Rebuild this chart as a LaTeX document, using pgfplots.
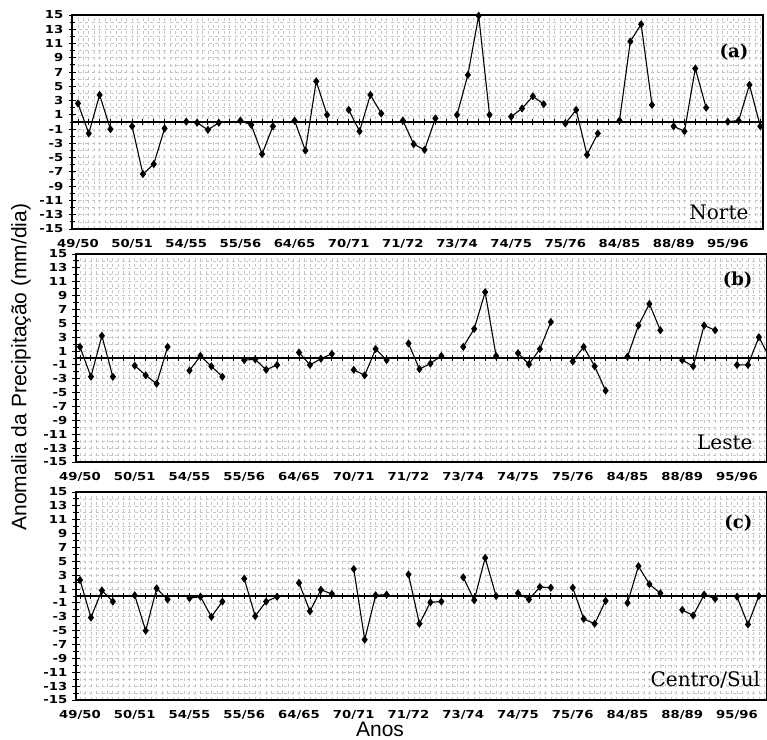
\documentclass[border=0pt]{standalone}
\usepackage{pgfplots}
\usepackage{pgfplotstable}
\pgfplotsset{compat=1.18}
\usepackage{fontspec}
\setmainfont{Liberation Sans}
\newfontfamily\tickfont{DejaVu Sans}
\newfontfamily\panelfont{DejaVu Serif}
\newcommand{\tl}[1]{\scalebox{1.2}[1]{\tickfont\bfseries\fontsize{11bp}{12bp}\selectfont #1}}

\pgfplotstableread{
x y
0 2.6
1 -1.6
2 3.8
3 -1.0
4 nan
5 -0.6
6 -7.3
7 -5.9
8 -0.9
9 nan
10 0.05
11 -0.1
12 -1.1
13 -0.1
14 nan
15 0.2
16 -0.4
17 -4.5
18 -0.6
19 nan
20 0.2
21 -4.0
22 5.7
23 1.0
24 nan
25 1.7
26 -1.3
27 3.8
28 1.2
29 nan
30 0.2
31 -3.1
32 -3.9
33 0.5
34 nan
35 1.0
36 6.6
37 14.9
38 1.0
39 nan
40 0.75
41 1.9
42 3.6
43 2.5
44 nan
45 -0.2
46 1.7
47 -4.6
48 -1.6
49 nan
50 0.2
51 11.3
52 13.7
53 2.4
54 nan
55 -0.6
56 -1.3
57 7.5
58 2.0
59 nan
60 0.05
61 0.2
62 5.2
63 -0.6
}\norte

\pgfplotstableread{
x y
0 1.6
1 -2.7
2 3.2
3 -2.7
4 nan
5 -1.1
6 -2.5
7 -3.7
8 1.6
9 nan
10 -1.8
11 0.3
12 -1.2
13 -2.7
14 nan
15 -0.3
16 -0.2
17 -1.7
18 -1.0
19 nan
20 0.8
21 -1.0
22 -0.1
23 0.6
24 nan
25 -1.7
26 -2.5
27 1.3
28 -0.3
29 nan
30 2.1
31 -1.6
32 -0.8
33 0.3
34 nan
35 1.6
36 4.2
37 9.5
38 0.3
39 nan
40 0.7
41 -0.9
42 1.3
43 5.2
44 nan
45 -0.5
46 1.6
47 -1.2
48 -4.7
49 nan
50 0.2
51 4.7
52 7.8
53 4.0
54 nan
55 -0.3
56 -1.2
57 4.7
58 4.0
59 nan
60 -1.0
61 -1.0
62 3.0
63 0.0
}\leste

\pgfplotstableread{
x y
0 2.3
1 -3.1
2 0.8
3 -0.8
4 nan
5 0.1
6 -5.0
7 1.1
8 -0.5
9 nan
10 -0.3
11 -0.1
12 -3.0
13 -0.8
14 nan
15 2.5
16 -2.9
17 -0.8
18 -0.1
19 nan
20 1.9
21 -2.2
22 0.9
23 0.3
24 nan
25 3.9
26 -6.3
27 0.1
28 0.2
29 nan
30 3.1
31 -4.0
32 -0.9
33 -0.8
34 nan
35 2.7
36 -0.6
37 5.5
38 0.0
39 nan
40 0.4
41 -0.5
42 1.3
43 1.2
44 nan
45 1.2
46 -3.3
47 -4.0
48 -0.7
49 nan
50 -1.0
51 4.3
52 1.7
53 0.4
54 nan
55 -2.0
56 -2.8
57 0.2
58 -0.4
59 nan
60 -0.1
61 -4.1
62 0.0
63 -0.1
}\centro

\pgfplotstableread{
x y
-1 0
0 0
1 0
2 0
3 0
4 0
5 0
6 0
7 0
8 0
9 0
10 0
11 0
12 0
13 0
14 0
15 0
16 0
17 0
18 0
19 0
20 0
21 0
22 0
23 0
24 0
25 0
26 0
27 0
28 0
29 0
30 0
31 0
32 0
33 0
34 0
35 0
36 0
37 0
38 0
39 0
40 0
41 0
42 0
43 0
44 0
45 0
46 0
47 0
48 0
49 0
50 0
51 0
52 0
53 0
54 0
55 0
56 0
57 0
58 0
59 0
60 0
61 0
62 0
63 0
64 0
}\zeroline

\pgfplotsset{
  panel/.style={
    scale only axis, width=691bp,
    ymin=-15, ymax=15,
    ytick={-15,-13,...,15},
    yticklabels={\tl{-15},\tl{-13},\tl{-11},\tl{-9},\tl{-7},\tl{-5},\tl{-3},\tl{-1},\tl{1},\tl{3},\tl{5},\tl{7},\tl{9},\tl{11},\tl{13},\tl{15}},
    minor ytick={-14,-12,...,14},
    xtick={0,5,...,60},
    xticklabels={\tl{49/50},\tl{50/51},\tl{54/55},\tl{55/56},\tl{64/65},\tl{70/71},\tl{71/72},\tl{73/74},\tl{74/75},\tl{75/76},\tl{84/85},\tl{88/89},\tl{95/96}},
    minor xtick={-0.5,0,...,64},
    grid=both,
    major grid style={gray!45, dash pattern=on 3bp off 3.5bp, line width=0.7pt},
    minor grid style={gray!45, dash pattern=on 3bp off 3.5bp, line width=0.7pt},
    xtick style={draw=none},
    ytick style={black, line width=0.9pt},
    tick align=center,
    ytick pos=left, xtick pos=bottom,
    major tick length=7bp, minor tick length=5bp,
    axis line style={black, line width=1.2pt},
    yticklabel style={xshift=-4bp, inner sep=1bp},
    xticklabel style={yshift=-3bp},
  },
  zl/.style={black, line width=1.2pt, mark=|, mark size=3bp, mark options={line width=0.9pt}},
  dl/.style={black, line width=1.1pt, mark=diamond*, mark size=3.2bp, unbounded coords=jump},
}
\tikzset{
  lab/.style={anchor=east, font=\panelfont\bfseries\fontsize{18bp}{20bp}\selectfont},
  reg/.style={anchor=east, font=\panelfont\fontsize{20bp}{22bp}\selectfont},
}

\begin{document}
\begin{tikzpicture}
\path[use as bounding box] (0bp,0bp) rectangle (767bp,-740bp);

\begin{axis}[panel, at={(72bp,-229bp)}, anchor=south west, height=214bp, xmin=-0.55, xmax=63.25]
\addplot[zl] table {\zeroline};
\addplot[dl] table {\norte};
\node[lab] at (rel axis cs:0.984,0.827) {(a)};
\node[reg] at (rel axis cs:0.984,0.08) {Norte};
\end{axis}

\begin{axis}[panel, at={(76bp,-462bp)}, anchor=south west, height=208bp, xmin=-0.365, xmax=62.74]
\addplot[zl] table {\zeroline};
\addplot[dl] table {\leste};
\node[lab] at (rel axis cs:0.984,0.875) {(b)};
\node[reg] at (rel axis cs:0.984,0.096) {Leste};
\end{axis}

\begin{axis}[panel, at={(76bp,-700bp)}, anchor=south west, height=208bp, xmin=-0.365, xmax=62.74]
\addplot[zl] table {\zeroline};
\addplot[dl] table {\centro};
\node[lab] at (rel axis cs:0.984,0.85) {(c)};
\node[reg] at (rel axis cs:0.995,0.096) {Centro/Sul};
\end{axis}

\node[rotate=90, font=\fontsize{21bp}{24bp}\selectfont] at (21bp,-367bp) {Anomalia da Precipitação (mm/dia)};
\node[font=\fontsize{21bp}{24bp}\selectfont] at (380bp,-729bp) {Anos};
\end{tikzpicture}
\end{document}
